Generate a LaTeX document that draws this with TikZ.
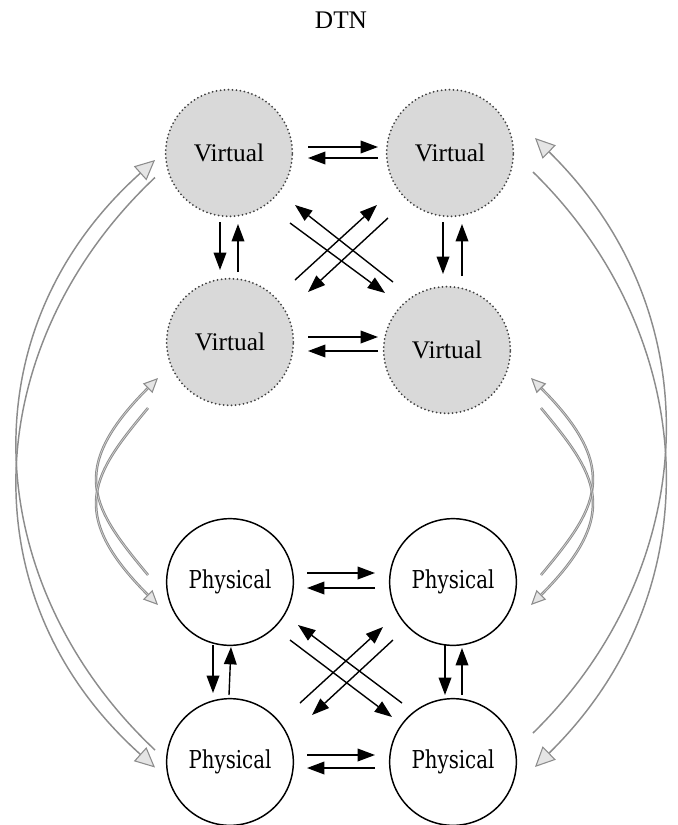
\documentclass[tikz,border=0pt]{standalone}
\usepackage{fontspec}
\setmainfont{Liberation Serif}
\newfontfamily\physfont[FakeStretch=0.8]{DejaVu Serif}
\usetikzlibrary{arrows.meta}
\begin{document}
\begin{tikzpicture}[x=0.75pt,y=-0.75pt,
 vnode/.style={circle, minimum size=95pt, inner sep=0pt, fill=gray!30, draw=black!75, line width=1.5pt, dash pattern=on 0pt off 3pt, line cap=round, font=\fontsize{19}{22}\selectfont},
 pnode/.style={circle, minimum size=95pt, inner sep=0pt, fill=white, draw=black, line width=1.1pt, font=\physfont\fontsize{18.5}{22}\selectfont},
 blk/.style={-{Triangle[length=13pt,width=9.5pt]}, line width=1.05pt, black},
 bigarc/.style={draw=gray!90, line width=1.1pt, -{Triangle[open, length=15pt, width=14pt, fill=gray!20, line width=0.8pt]}},
 midarc/.style={draw=gray!90, line width=1.9pt, -{Triangle[open, length=11pt, width=10pt, fill=gray!20, line width=0.8pt]},
   postaction={draw=gray!35, line width=0.5pt, -, shorten >=11pt}},
]
\useasboundingbox (0,0) rectangle (678,825);
\node[font=\fontsize{19}{22}\selectfont] (title) at (341,20) {DTN};
\node[vnode] (vtl) at (229,153) {Virtual};
\node[vnode] (vtr) at (450,153) {Virtual};
\node[vnode] (vbl) at (230,342) {Virtual};
\node[vnode] (vbr) at (447,350) {Virtual};
\node[pnode] (ptl) at (230,582) {Physical};
\node[pnode] (ptr) at (453,582) {Physical};
\node[pnode] (pbl) at (230,762) {Physical};
\node[pnode] (pbr) at (453,762) {Physical};
% virtual horizontals
\draw[blk] ([shift={(79,-6)}]vtl.center) -- ([shift={(-72,-6)}]vtr.center);
\draw[blk] ([shift={(-72,5)}]vtr.center) -- ([shift={(79,5)}]vtl.center);
\draw[blk] ([shift={(78,-5)}]vbl.center) -- ([shift={(-69,-13)}]vbr.center);
\draw[blk] ([shift={(-69,1)}]vbr.center) -- ([shift={(78,9)}]vbl.center);
% virtual verticals
\draw[blk] ([shift={(-9,69)}]vtl.center) -- ([shift={(-10,-72)}]vbl.center);
\draw[blk] ([shift={(8,-70)}]vbl.center) -- ([shift={(9,71)}]vtl.center);
\draw[blk] ([shift={(-7,69)}]vtr.center) -- ([shift={(-4,-76)}]vbr.center);
\draw[blk] ([shift={(15,-74)}]vbr.center) -- ([shift={(12,71)}]vtr.center);
% virtual diagonals
\draw[blk] ([shift={(-54,-68)}]vbr.center) -- ([shift={(66,52)}]vtl.center);
\draw[blk] ([shift={(61,70)}]vtl.center) -- ([shift={(-62,-57)}]vbr.center);
\draw[blk] ([shift={(65,-62)}]vbl.center) -- ([shift={(-73,52)}]vtr.center);
\draw[blk] ([shift={(-62,65)}]vtr.center) -- ([shift={(78,-50)}]vbl.center);
% physical horizontals
\draw[blk] ([shift={(77,-9)}]ptl.center) -- ([shift={(-78,-9)}]ptr.center);
\draw[blk] ([shift={(-78,6)}]ptr.center) -- ([shift={(77,6)}]ptl.center);
\draw[blk] ([shift={(77,-7)}]pbl.center) -- ([shift={(-78,-7)}]pbr.center);
\draw[blk] ([shift={(-78,6)}]pbr.center) -- ([shift={(77,6)}]pbl.center);
% physical verticals
\draw[blk] ([shift={(-17,63)}]ptl.center) -- ([shift={(-17,-69)}]pbl.center);
\draw[blk] ([shift={(-1,-67)}]pbl.center) -- ([shift={(1,65)}]ptl.center);
\draw[blk] ([shift={(-8,63)}]ptr.center) -- ([shift={(-8,-67)}]pbr.center);
\draw[blk] ([shift={(9,-67)}]pbr.center) -- ([shift={(9,66)}]ptr.center);
% physical diagonals
\draw[blk] ([shift={(60,58)}]ptl.center) -- ([shift={(-61,-45)}]pbr.center);
\draw[blk] ([shift={(-51,-59)}]pbr.center) -- ([shift={(68,43)}]ptl.center);
\draw[blk] ([shift={(70,-59)}]pbl.center) -- ([shift={(-70,45)}]ptr.center);
\draw[blk] ([shift={(-60,58)}]ptr.center) -- ([shift={(82,-47)}]pbl.center);
% big outer arcs
\draw[bigarc] ([shift={(-75,-12)}]pbl.center) .. controls +(-170,-160) and +(-195,175) .. ([shift={(-74,7)}]vtl.center);
\draw[bigarc] ([shift={(-74,24.5)}]vtl.center) .. controls +(-170,160) and +(-195,-175) .. ([shift={(-75,5.5)}]pbl.center);
\draw[bigarc] ([shift={(80,-29)}]pbr.center) .. controls +(162,-158) and +(185,182) .. ([shift={(85,-15)}]vtr.center);
\draw[bigarc] ([shift={(83,19)}]vtr.center) .. controls +(162,158) and +(185,-182) .. ([shift={(82,5)}]pbr.center);
% middle arcs
\draw[midarc] ([shift={(-82,-7)}]ptl.center) .. controls +(-54,-65) and +(-93,93) .. ([shift={(-72,36)}]vbl.center);
\draw[midarc] ([shift={(-82,66)}]vbl.center) .. controls +(-54,65) and +(-93,-93) .. ([shift={(-72,23)}]ptl.center);
\draw[midarc] ([shift={(88,-7)}]ptr.center) .. controls +(54,-65) and +(93,93) .. ([shift={(84,28)}]vbr.center);
\draw[midarc] ([shift={(94,58)}]vbr.center) .. controls +(54,65) and +(93,-93) .. ([shift={(78,23)}]ptr.center);
\end{tikzpicture}
\end{document}
